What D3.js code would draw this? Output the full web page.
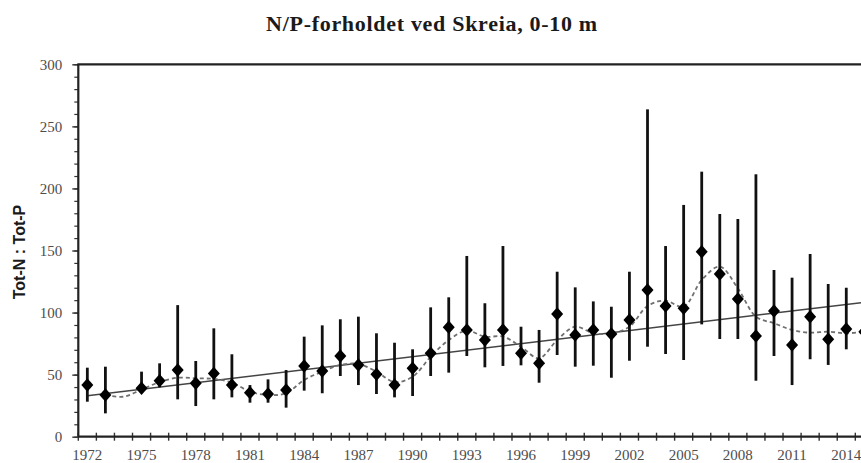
<!DOCTYPE html>
<html>
<head>
<meta charset="utf-8">
<script src="https://cdn.jsdelivr.net/npm/d3@7"></script>
<style>
  body { margin: 0; background: #fff; }
  svg { display: block; }
</style>
</head>
<body>
<div id="canvas"></div>
<script>
// years with measurements (no data for 1974)
const years = [1972, 1973, 1975, 1976, 1977, 1978, 1979, 1980, 1981, 1982, 1983, 1984,
  1985, 1986, 1987, 1988, 1989, 1990, 1991, 1992, 1993, 1994, 1995, 1996, 1997, 1998,
  1999, 2000, 2001, 2002, 2003, 2004, 2005, 2006, 2007, 2008, 2009, 2010, 2011, 2012,
  2013, 2014, 2015];
// mean N/P ratio
const meanValues = [41.6, 33.6, 39, 45, 53.7, 43, 51, 41.6, 35.5, 34.4, 37.6, 57,
  52.9, 65, 57.8, 50.3, 41.6, 55.1, 67.2, 88.1, 86, 77.9, 86, 67.2, 59.1, 98.8,
  81.9, 86, 82.7, 94, 118.2, 105.3, 103.4, 149, 131, 111, 81.1, 101.3, 73.9, 96.7,
  78.5, 86.8, 84.6];
// max / min (error bars)
const maxValues = [55.6, 56.4, 52.4, 59.1, 106, 61, 87.3, 66.4, 41.6, 46.2, 53.7, 80.6,
  89.7, 94.6, 96.7, 83.3, 75.7, 70.4, 104.2, 112.3, 145.6, 107.5, 153.6, 88.6, 86, 132.9,
  120.3, 109, 104.7, 132.9, 263.7, 153.6, 186.7, 213.5, 179.4, 175.4, 211.4, 134.3, 128.1, 147.2,
  123, 120, null];
const minValues = [28.2, 18.8, 35.7, 39.8, 30.1, 24.7, 30.1, 31.7, 27.4, 27.4, 23.4, 37.1,
  35, 48.9, 41.6, 34.4, 31.7, 32.8, 48.9, 51.6, 65, 55.9, 57, 57.5, 43.5, 65.8,
  56.4, 57.2, 47.5, 61.2, 72.5, 66.6, 61.8, 90.5, 78.7, 78.7, 45.1, 65, 41.6, 62.4,
  57.8, 70.4, null];

// smoothed curve (dashed)
const smoothYears = [1973, 1974, 1975, 1976, 1977, 1978, 1979, 1980, 1981, 1982, 1983, 1984,
  1985, 1986, 1987, 1988, 1989, 1990, 1991, 1992, 1993, 1994, 1995, 1996, 1997, 1998,
  1999, 2000, 2001, 2002, 2003, 2004, 2005, 2006, 2007, 2008, 2009, 2010, 2011, 2012,
  2013, 2014, 2015];
const smoothValues = [33.6, 32.2, 38, 44, 47.5, 47, 46.5, 43.6, 36.3, 33.6, 35, 45.7,
  52.4, 57.8, 58.6, 52.4, 44, 48.3, 64.4, 77.9, 85.4, 80.6, 80.6, 72.5, 63.2, 77.9,
  88.6, 83.3, 83.3, 88.6, 105.3, 109.6, 104.7, 126.2, 137, 119.6, 96.7, 91.4, 86, 83.8,
  84.6, 83.3, 84.6];

// linear trend
const trendYears = [1972, 2015];
const trendValues = [33, 108.3];

const categories = d3.range(1972, 2016);
const tickYears = [1972, 1975, 1978, 1981, 1984, 1987, 1990, 1993, 1996, 1999, 2002, 2005, 2008, 2011, 2014];
const yTicks = [0, 50, 100, 150, 200, 250, 300];

let width = 861;
let height = 463;
let margin = { top: 64.3, bottom: 26.3, left: 78.3 };
let bandW = 18.07;

let svg = d3.select("#canvas")
  .append("svg")
  .attr("width", width)
  .attr("height", height);

let escalaX = d3.scaleBand()
  .domain(categories)
  .range([margin.left, margin.left + categories.length * bandW])
  .padding(0);
let escalaY = d3.scaleLinear()
  .domain([0, 300])
  .range([height - margin.bottom, margin.top]);

let cx = yr => escalaX(yr) + escalaX.bandwidth() / 2;
let y0 = escalaY(0);
let serif = "'Liberation Serif', 'DejaVu Serif', serif";

// title
svg.append("text")
  .attr("x", 432)
  .attr("y", 31)
  .attr("text-anchor", "middle")
  .style("font-family", serif)
  .style("font-weight", "bold")
  .style("font-size", "22px")
  .style("letter-spacing", "0.7px")
  .attr("fill", "#1a1a1a")
  .text("N/P-forholdet ved Skreia, 0-10 m");

// y label
svg.append("text")
  .attr("transform", "translate(25,252) rotate(-90)")
  .attr("text-anchor", "middle")
  .style("font-family", "'Liberation Sans', Arial, sans-serif")
  .style("font-weight", "bold")
  .style("font-size", "16px")
  .attr("fill", "#1a1a1a")
  .text("Tot-N : Tot-P");

// minor y ticks
svg.append("g")
  .attr("transform", "translate(" + margin.left + ",0)")
  .call(d3.axisLeft(escalaY).tickValues(d3.range(0, 301, 10)).tickSize(4).tickFormat(""))
  .call(g => g.select(".domain").remove())
  .selectAll("line").attr("stroke", "#333").attr("stroke-width", 1.2);

// major y ticks + labels
svg.append("g")
  .attr("transform", "translate(" + margin.left + ",0)")
  .call(d3.axisLeft(escalaY).tickValues(yTicks).tickSize(6).tickPadding(10))
  .call(g => g.select(".domain").remove())
  .call(g => g.selectAll("line").attr("stroke", "#333").attr("stroke-width", 1.4))
  .call(g => g.selectAll("text")
    .style("font-family", serif)
    .style("font-size", "15px")
    .attr("fill", "#4d4d4d"));

// x labels
svg.append("g")
  .attr("transform", "translate(0," + y0 + ")")
  .call(d3.axisBottom(escalaX).tickValues(tickYears).tickSize(0).tickPadding(13))
  .call(g => g.select(".domain").remove())
  .call(g => g.selectAll("text")
    .style("font-family", serif)
    .style("font-size", "15px")
    .attr("fill", "#4d4d4d"));

// x boundary ticks
svg.append("g")
  .selectAll("line")
  .data(categories)
  .enter()
  .append("line")
  .attr("x1", d => escalaX(d))
  .attr("x2", d => escalaX(d))
  .attr("y1", y0 - 4)
  .attr("y2", y0 + 4)
  .attr("stroke", "#333")
  .attr("stroke-width", 1.4);

// frame: left axis, bottom axis, top border
svg.append("line")
  .attr("x1", margin.left).attr("x2", margin.left)
  .attr("y1", escalaY(300)).attr("y2", y0)
  .attr("stroke", "#222").attr("stroke-width", 2.2);
svg.append("line")
  .attr("x1", margin.left).attr("x2", width)
  .attr("y1", y0).attr("y2", y0)
  .attr("stroke", "#222").attr("stroke-width", 2.2);
svg.append("line")
  .attr("x1", margin.left - 1).attr("x2", width)
  .attr("y1", escalaY(300)).attr("y2", escalaY(300))
  .attr("stroke", "#222").attr("stroke-width", 2.2);

// trend line
svg.append("line")
  .attr("x1", cx(trendYears[0]))
  .attr("x2", cx(trendYears[1]))
  .attr("y1", escalaY(trendValues[0]))
  .attr("y2", escalaY(trendValues[1]))
  .attr("stroke", "#444")
  .attr("stroke-width", 1.5);

// smoothed dashed curve
let linea = d3.line()
  .x((d, i) => cx(smoothYears[i]))
  .y(d => escalaY(d))
  .curve(d3.curveCatmullRom.alpha(0.5));
svg.append("path")
  .attr("d", linea(smoothValues))
  .attr("fill", "none")
  .attr("stroke", "#707070")
  .attr("stroke-width", 1.8)
  .attr("stroke-dasharray", "4,3");

// error bars
let data = years.map((yr, i) => ({ yr: yr, mean: meanValues[i], max: maxValues[i], min: minValues[i] }));
svg.append("g")
  .selectAll("line")
  .data(data.filter(d => d.max != null))
  .enter()
  .append("line")
  .attr("x1", d => cx(d.yr))
  .attr("x2", d => cx(d.yr))
  .attr("y1", d => escalaY(d.max))
  .attr("y2", d => escalaY(d.min))
  .attr("stroke", "#111")
  .attr("stroke-width", 2.8);

// diamond markers
let simbolo = d3.symbol().type(d3.symbolSquare).size(72);
svg.append("g")
  .selectAll("path")
  .data(data)
  .enter()
  .append("path")
  .attr("d", simbolo())
  .attr("transform", d => "translate(" + cx(d.yr) + "," + escalaY(d.mean) + ") scale(1,1.12) rotate(45)")
  .attr("fill", "#000");
</script>
</body>
</html>
